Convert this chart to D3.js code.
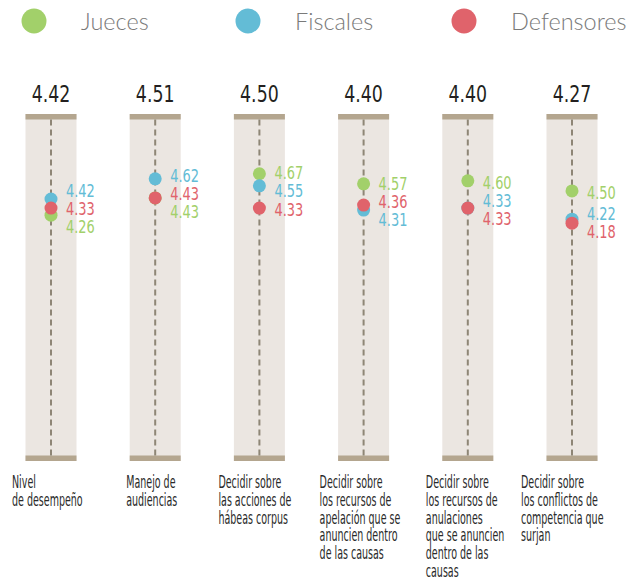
<!DOCTYPE html>
<html>
<head>
<meta charset="utf-8">
<script src="https://cdn.jsdelivr.net/npm/d3@7"></script>
<style>
  html, body { margin: 0; padding: 0; background: #ffffff; }
  svg { display: block; }
</style>
</head>
<body>
<svg id="chart" width="626" height="585"></svg>
<script>
// ---- data ----
const categories = [
  "Nivel de desempeño",
  "Manejo de audiencias",
  "Decidir sobre las acciones de hábeas corpus",
  "Decidir sobre los recursos de apelación que se anuncien dentro de las causas",
  "Decidir sobre los recursos de anulaciones que se anuncien dentro de las causas",
  "Decidir sobre los conflictos de competencia que surjan"
];
const categoryLines = [
  ["Nivel", "de desempeño"],
  ["Manejo de", "audiencias"],
  ["Decidir sobre", "las acciones de", "hábeas corpus"],
  ["Decidir sobre", "los recursos de", "apelación que se", "anuncien dentro", "de las causas"],
  ["Decidir sobre", "los recursos de", "anulaciones", "que se anuncien", "dentro de las", "causas"],
  ["Decidir sobre", "los conflictos de", "competencia que", "surjan"]
];
const overall    = [4.42, 4.51, 4.50, 4.40, 4.40, 4.27];
const jueces     = [4.26, 4.43, 4.67, 4.57, 4.60, 4.50];
const fiscales   = [4.42, 4.62, 4.55, 4.31, 4.33, 4.22];
const defensores = [4.33, 4.43, 4.33, 4.36, 4.33, 4.18];
const seriesNames = ["Jueces", "Fiscales", "Defensores"];

// ---- styling / layout ----
const colors = { Jueces: "#a2d06a", Fiscales: "#63bcd6", Defensores: "#e0636b" };
const labelTieOrder = { Fiscales: 0, Defensores: 1, Jueces: 2 };
const labelShift = [-39, -29, -41, -44, -42, -51];
const bandHalf = 25.5, bandTop = 114, bandBottom = 461, capH = 5.5;
const numFont = "'DejaVu Sans Condensed', 'DejaVu Sans', sans-serif";

const series = [
  { name: "Jueces", values: jueces },
  { name: "Fiscales", values: fiscales },
  { name: "Defensores", values: defensores }
];

const svg = d3.select("#chart");

const x = d3.scalePoint().domain(categories).range([51, 572]);
const y = d3.scaleLinear().domain([4, 5]).range([241.4, 140.4]);

// ---- legend ----
const legendX = d3.scaleOrdinal().domain(seriesNames).range([34, 248, 464]);
const legend = svg.append("g").selectAll("g").data(seriesNames).join("g")
  .attr("transform", d => `translate(${legendX(d)},21)`);
legend.append("circle").attr("r", 12.5).attr("fill", d => colors[d]);
legend.append("text")
  .attr("x", 47).attr("y", 8.5)
  .attr("font-family", "Lato, 'Open Sans', sans-serif")
  .attr("font-weight", 300)
  .attr("font-size", 23.5)
  .attr("fill", "#7a7a7a")
  .text(d => d);

// ---- columns ----
const cols = svg.append("g").selectAll("g").data(categories).join("g")
  .attr("transform", d => `translate(${x(d)},0)`);

cols.append("rect")
  .attr("x", -bandHalf).attr("width", bandHalf * 2)
  .attr("y", bandTop).attr("height", bandBottom - bandTop)
  .attr("fill", "#ebe6e1");
cols.append("rect")
  .attr("x", -bandHalf).attr("width", bandHalf * 2)
  .attr("y", bandTop).attr("height", capH)
  .attr("fill", "#b4a68f");
cols.append("rect")
  .attr("x", -bandHalf).attr("width", bandHalf * 2)
  .attr("y", bandBottom - capH).attr("height", capH)
  .attr("fill", "#b4a68f");
cols.append("line")
  .attr("x1", 0).attr("x2", 0)
  .attr("y1", bandTop + capH).attr("y2", bandBottom - capH)
  .attr("stroke", "#8e8676").attr("stroke-width", 2)
  .attr("stroke-dasharray", "6,4");

// overall value above each column
cols.append("text")
  .attr("text-anchor", "middle")
  .attr("transform", "translate(0,101.5) scale(0.84,1)")
  .attr("font-family", numFont)
  .attr("font-size", 23)
  .attr("fill", "#231f20")
  .text((d, i) => overall[i].toFixed(2));

// dots, drawn in series order so later series sit on top
cols.each(function (cat, i) {
  const g = d3.select(this);
  const pts = series.map(s => ({ name: s.name, v: s.values[i], cy: y(s.values[i]) }));

  g.selectAll("circle.dot").data(pts).join("circle")
    .attr("class", "dot")
    .attr("cy", d => d.cy)
    .attr("r", 6.5)
    .attr("fill", d => colors[d.name]);

  // value labels, spread apart so they don't overlap
  const labs = pts.map(p => ({ ...p, ly: p.cy + 1.5 }))
    .sort((a, b) => (a.cy - b.cy) || (labelTieOrder[a.name] - labelTieOrder[b.name]));
  const gap = 18;
  for (let iter = 0; iter < 50; iter++) {
    let moved = false;
    for (let k = 1; k < labs.length; k++) {
      const d = labs[k].ly - labs[k - 1].ly;
      if (d < gap - 0.01) {
        const push = (gap - d) / 2;
        labs[k - 1].ly -= push;
        labs[k].ly += push;
        moved = true;
      }
    }
    if (!moved) break;
  }
  g.selectAll("text.val").data(labs).join("text")
    .attr("class", "val")
    .attr("transform", d => `translate(15,${d.ly}) scale(0.8,1)`)
    .attr("dy", "0.36em")
    .attr("font-family", numFont)
    .attr("font-size", 18)
    .attr("fill", d => colors[d.name])
    .text(d => d.v.toFixed(2));

  // category label below the column
  const t = g.append("text")
    .attr("transform", `translate(${labelShift[i]},488) scale(0.63,1)`)
    .attr("font-family", numFont)
    .attr("font-size", 16.8)
    .attr("fill", "#2a2a2a");
  t.selectAll("tspan").data(categoryLines[i]).join("tspan")
    .attr("x", 0)
    .attr("y", (d, k) => k * 17.8)
    .text(d => d);
});
</script>
</body>
</html>
